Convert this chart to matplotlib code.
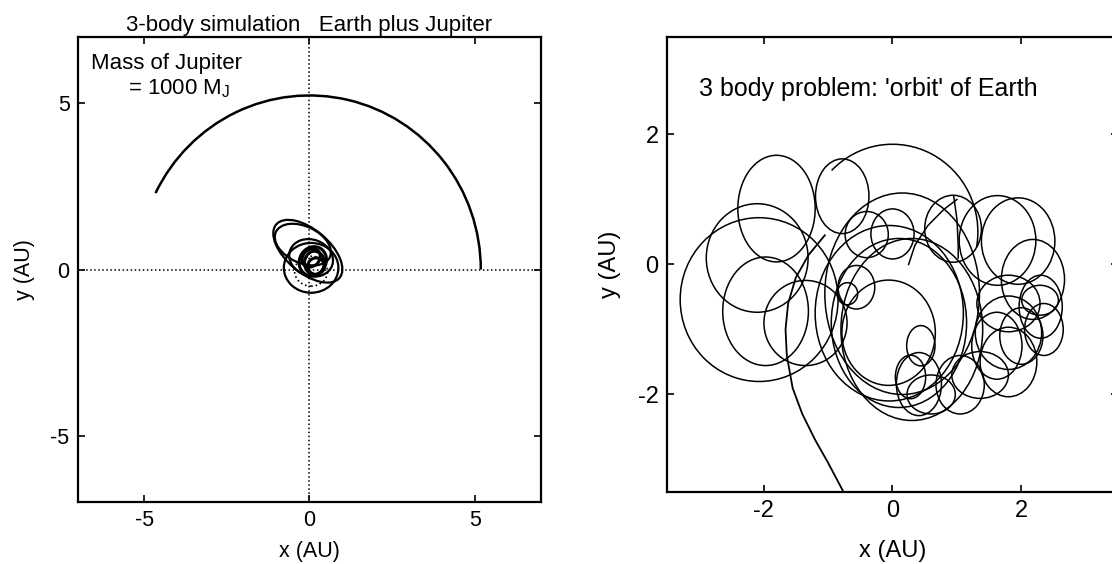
import matplotlib
matplotlib.use("Agg")
import matplotlib.pyplot as plt
from matplotlib.patches import Ellipse, Arc

plt.rcParams['font.family'] = ['Liberation Sans', 'DejaVu Sans']
plt.rcParams['mathtext.default'] = 'regular'
plt.rcParams['axes.unicode_minus'] = False

# ---- left panel: Earth + very heavy Jupiter ----
jup_r = (5.18, 5.24)          # half width / half height of Jupiter's arc
jup_theta = (0.0, 153.7)      # start / end angle (deg)

# Earth's loops near the Sun: centre x, centre y, width, height, tilt
earth_cx = [-0.05, 0.05, -0.2, 0.05, 0.1, 0.15, 0.05, 0.2]
earth_cy = [0.55, 0.05, 0.75, 0.35, 0.25, 0.2, 0.35, 0.1]
earth_w = [2.5, 1.65, 1.8, 1.35, 0.8, 0.6, 0.5, 0.5]
earth_h = [1.3, 1.5, 1.1, 1.1, 0.9, 0.7, 0.6, 0.5]
earth_ang = [-40, 0, -25, -20, -30, 0, -45, 0]
earth_old = (0.05, -0.05, 1.0, 0.9)   # dotted loop

# ---- right panel: the 'orbit' of Earth ----
loop_cx = [-2.07, -2.10, -1.80, -1.97, -1.35, -0.78,
           0.15, -0.05, 0.10, 0.30, -0.06,
           -0.56, -0.70, -0.40, 0.00,
           0.44, 0.41, 0.28, 1.36, 1.80,
           0.94, 1.63, 1.95, 2.18, 1.80, 1.80, 2.29, 2.00, 2.30, 1.62,
           1.05, 2.35, 0.60]
loop_cy = [-0.54, 0.10, 0.86, -0.72, -0.90, 1.05,
           -0.45, -0.75, -0.90, -1.00, -1.05,
           -0.35, -0.45, 0.46, 0.47,
           -1.25, -1.84, -1.73, -1.70, -1.50,
           0.55, 0.37, 0.36, -0.23, -0.60, -1.05, -0.55, -1.10, -0.65, -1.25,
           -1.85, -1.00, -2.00]
loop_w = [2.45, 1.58, 1.20, 1.33, 1.29, 0.83,
          2.40, 2.30, 2.10, 2.20, 1.45,
          0.57, 0.32, 0.67, 0.67,
          0.44, 0.70, 0.47, 0.88, 0.88,
          0.88, 1.19, 1.14, 0.98, 0.98, 1.03, 0.57, 0.67, 0.67, 0.78,
          0.75, 0.60, 0.75]
loop_h = [2.52, 1.67, 1.64, 1.67, 1.31, 1.15,
          3.10, 2.70, 2.60, 2.80, 1.62,
          0.67, 0.34, 0.71, 0.77,
          0.62, 0.97, 0.67, 0.72, 1.07,
          1.03, 1.38, 1.33, 1.23, 0.87, 1.13, 0.46, 0.87, 0.97, 1.03,
          0.90, 0.80, 0.60]

top_arc = (0.0, 0.5, 2.65, 2.7, -10, 135)   # cx, cy, w, h, theta1, theta2

start_x = [0.25, 0.35, 0.55, 0.80, 1.00]
start_y = [0.00, 0.30, 0.60, 0.85, 1.00]
cusp_x = [0.95, 1.00, 1.02, 1.02]
cusp_y = [1.05, 0.70, 0.30, 0.10]
tail_x = [-0.76, -1.00, -1.20, -1.40, -1.55, -1.64, -1.66, -1.62, -1.50, -1.30, -1.05]
tail_y = [-3.50, -3.05, -2.70, -2.30, -1.90, -1.40, -1.00, -0.60, -0.20, 0.15, 0.45]

fig = plt.figure(figsize=(11.12, 5.64), dpi=100)

def style(ax, ticks, fs, xpad, ypad):
    ax.set_xticks(ticks)
    ax.set_yticks(ticks)
    ax.tick_params(direction='in', length=5, width=1.2, top=True, right=True,
                   labelsize=fs, pad=6)
    for s in ax.spines.values():
        s.set_linewidth(1.6)
    ax.set_xlabel('x (AU)', fontsize=fs, labelpad=xpad)
    ax.set_ylabel('y (AU)', fontsize=fs, labelpad=ypad)

ax1 = fig.add_axes([0.0701, 0.1099, 0.4164, 0.8245])
ax1.set_xlim(-7, 7)
ax1.set_ylim(-7, 7)
ax1.axhline(0, color='k', ls=':', lw=1.1)
ax1.axvline(0, color='k', ls=':', lw=1.1)
ax1.add_patch(Arc((0, 0), 2 * jup_r[0], 2 * jup_r[1], theta1=jup_theta[0],
                  theta2=jup_theta[1], color='k', lw=1.8))
for i in range(len(earth_cx)):
    ax1.add_patch(Ellipse((earth_cx[i], earth_cy[i]), earth_w[i], earth_h[i],
                          angle=earth_ang[i], fill=False, ec='k',
                          lw=1.6 if i < 4 else 2.2))
ax1.add_patch(Ellipse(earth_old[:2], earth_old[2], earth_old[3], fill=False,
                      ec='k', lw=1.2, ls=':'))
ax1.text(-6.6, 6.2, 'Mass of Jupiter', fontsize=16, va='center')
ax1.text(-5.5, 5.45, '= 1000 M$_J$', fontsize=16, va='center')
ax1.set_title('3-body simulation   Earth plus Jupiter', fontsize=16, pad=4)
style(ax1, [-5, 0, 5], 15.5, 7, 11)

ax2 = fig.add_axes([0.5998, 0.1277, 0.4056, 0.8067])
ax2.set_xlim(-3.5, 3.5)
ax2.set_ylim(-3.5, 3.5)
for i in range(len(loop_cx)):
    ax2.add_patch(Ellipse((loop_cx[i], loop_cy[i]), loop_w[i], loop_h[i],
                          fill=False, ec='k', lw=1.1))
ax2.add_patch(Arc(top_arc[:2], top_arc[2], top_arc[3], theta1=top_arc[4],
                  theta2=top_arc[5], color='k', lw=1.1))
ax2.plot(start_x, start_y, color='k', lw=1.1)
ax2.plot(cusp_x, cusp_y, color='k', lw=1.1)
ax2.plot(tail_x, tail_y, color='k', lw=1.3)
ax2.text(-3.0, 2.7, "3 body problem: 'orbit' of Earth", fontsize=18, va='center')
style(ax2, [-2, 0, 2], 17, 13, 12)

fig.savefig('out.png', dpi=100)
